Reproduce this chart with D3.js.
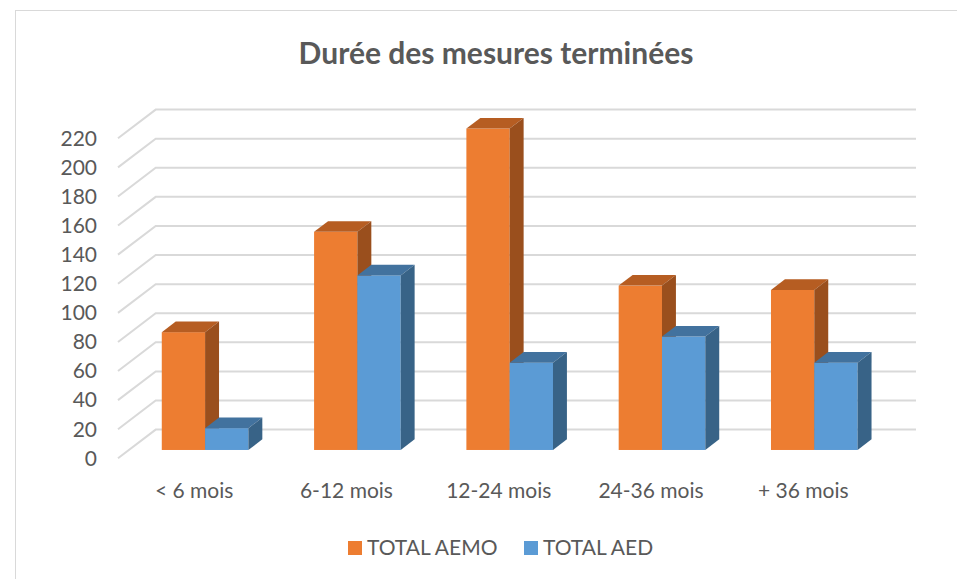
<!doctype html>
<html>
  <head>
    <meta charset="utf-8">
    <title>Durée des mesures terminées</title>
    <script src="https://cdnjs.cloudflare.com/ajax/libs/d3/7.8.5/d3.min.js"></script>
    <style>
      body { margin: 0; background: #fff; }
      text { font-family: Lato, "Open Sans", sans-serif; fill: #595959; }
    </style>
  </head>
  <body>
    <div id="chart"></div>
    <script>
      // data
      const categories = ['< 6 mois', '6-12 mois', '12-24 mois', '24-36 mois', '+ 36 mois'];
      const seriesNames = ['TOTAL AEMO', 'TOTAL AED'];
      const aemo = [81, 150, 221, 113, 110];
      const aed = [15, 120, 60, 78, 60];
      const yTicks = [0, 20, 40, 60, 80, 100, 120, 140, 160, 180, 200, 220];

      const W = 957, H = 579;
      const colors = [
        { front: '#ED7D31', top: '#B65D22', side: '#9A4F1D' },
        { front: '#5B9BD5', top: '#42729E', side: '#386387' }
      ];

      const svg = d3.select('#chart').append('svg')
        .attr('width', W).attr('height', H);

      // frame
      svg.append('rect')
        .attr('x', 15.5).attr('y', 10.5)
        .attr('width', W).attr('height', H)
        .attr('fill', 'none').attr('stroke', '#D9D9D9');

      // front plane scales
      const y = d3.scaleLinear().domain([0, 220]).range([458.3, 138.3]);
      const x = d3.scaleBand().domain(categories).range([118, 879.5]);
      const inner = d3.scaleBand().domain(seriesNames).range([0, 86.6]);

      // depth vector of the floor (oblique projection)
      const depth = { dx: 37.7, dy: -28.7 };
      const d0 = 0.29, d1 = 0.66; // bar front / back depth fractions

      // gridlines: diagonal on the left wall, then horizontal on the back wall
      const grid = svg.append('g');
      yTicks.forEach(v => {
        const x0 = x.range()[0], y0 = y(v);
        grid.append('polyline')
          .attr('points', [[x0, y0], [x0 + depth.dx, y0 + depth.dy], [916, y0 + depth.dy]].join(' '))
          .attr('fill', 'none')
          .attr('stroke', '#D9D9D9')
          .attr('stroke-width', 2);
      });

      // y tick labels
      svg.append('g').selectAll('text')
        .data(yTicks)
        .join('text')
        .attr('x', 97)
        .attr('y', d => y(d))
        .attr('dy', '0.35em')
        .attr('text-anchor', 'end')
        .style('font-size', '21px')
        .text(d => d);

      // bars
      const bars = [];
      categories.forEach((c, i) => {
        [aemo[i], aed[i]].forEach((v, s) => {
          bars.push({ cat: c, series: seriesNames[s], value: v, s: s });
        });
      });

      const pad = (x.bandwidth() - 86.6) / 2;
      const bw = inner.bandwidth();
      const ox = d0 * depth.dx, oy = d0 * depth.dy;
      const ddx = (d1 - d0) * depth.dx, ddy = (d1 - d0) * depth.dy;

      const g = svg.append('g').selectAll('g')
        .data(bars)
        .join('g');

      g.each(function (d) {
        const el = d3.select(this);
        const xl = x(d.cat) + pad + inner(d.series) + ox;
        const xr = xl + bw;
        const yt = y(d.value) + oy;
        const yb = y(0) + oy;
        const col = colors[d.s];
        // front
        el.append('rect')
          .attr('x', xl).attr('y', yt)
          .attr('width', bw).attr('height', yb - yt)
          .attr('fill', col.front);
        // top
        el.append('polygon')
          .attr('points', [[xl, yt], [xr, yt], [xr + ddx, yt + ddy], [xl + ddx, yt + ddy]].join(' '))
          .attr('fill', col.top);
        // side
        el.append('polygon')
          .attr('points', [[xr, yt], [xr + ddx, yt + ddy], [xr + ddx, yb + ddy], [xr, yb]].join(' '))
          .attr('fill', col.side);
      });

      // category labels
      svg.append('g').selectAll('text')
        .data(categories)
        .join('text')
        .attr('x', d => x(d) + x.bandwidth() / 2)
        .attr('y', 491)
        .attr('dy', '0.35em')
        .attr('text-anchor', 'middle')
        .style('font-size', '21px')
        .text(d => d);

      // title
      svg.append('text')
        .attr('x', 496)
        .attr('y', 53)
        .attr('dy', '0.35em')
        .attr('text-anchor', 'middle')
        .style('font-size', '30px')
        .style('font-weight', 'bold')
        .text('Durée des mesures terminées');

      // legend
      const legend = [
        { name: seriesNames[0], x: 348, color: colors[0].front },
        { name: seriesNames[1], x: 524, color: colors[1].front }
      ];
      const lg = svg.append('g').selectAll('g')
        .data(legend)
        .join('g')
        .attr('transform', d => `translate(${d.x},541)`);
      lg.append('rect')
        .attr('width', 14).attr('height', 14)
        .attr('fill', d => d.color);
      lg.append('text')
        .attr('x', 19)
        .attr('y', 7)
        .attr('dy', '0.35em')
        .style('font-size', '21px')
        .text(d => d.name);
    </script>
  </body>
</html>
